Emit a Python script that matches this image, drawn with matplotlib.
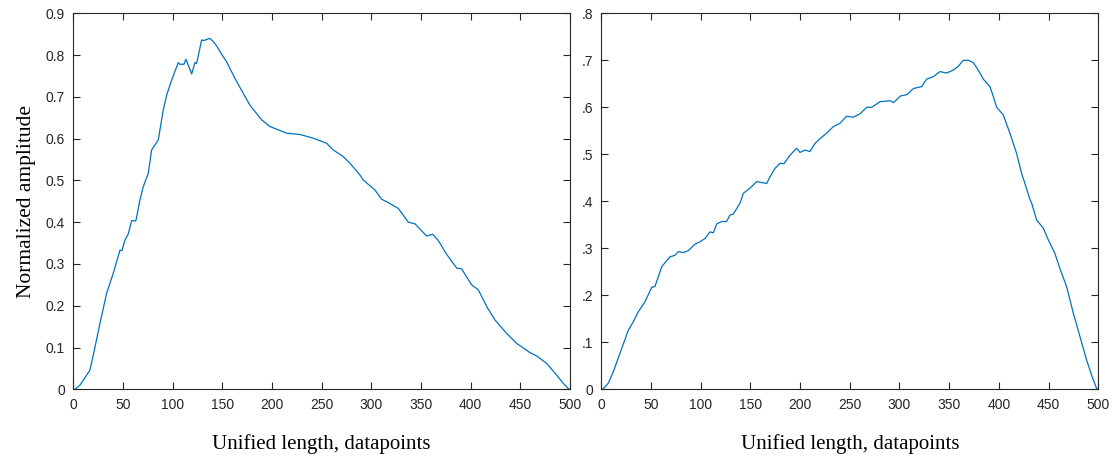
import numpy as np
import matplotlib
matplotlib.use('Agg')
import matplotlib.pyplot as plt

# 左图数据
left_x = [0, 1.7, 6.7, 11, 16.8, 21.8, 26.9, 33.6, 40.3, 47, 49, 52, 55.4, 58.8, 63,
          67.1, 70.5, 75.5, 78.9, 85.6, 90.6, 94, 99, 105.7, 107.3, 111.4, 113.4, 119.2,
          122.5, 124.2, 129.2, 131.5, 137.6, 141, 144.3, 149.4, 154.4, 162.8, 171.2,
          177.9, 189.6, 198, 214.8, 228.2, 241.6, 255, 261.7, 271.8, 278.5, 288.6, 291.9,
          303.7, 310.4, 315.5, 327.2, 337.3, 344, 355.7, 361.8, 367.5, 375.9, 386, 391,
          401, 407.8, 416.2, 424.5, 436.2, 446.3, 459.7, 466.4, 476.5, 486.6, 493.3, 499, 500]
left_y = [0, 0.0, 0.01, 0.025, 0.046, 0.10, 0.158, 0.23, 0.278, 0.333, 0.332, 0.357, 0.372,
          0.404, 0.403, 0.453, 0.485, 0.517, 0.573, 0.597, 0.669, 0.704, 0.74, 0.782, 0.778,
          0.778, 0.79, 0.755, 0.782, 0.78, 0.836, 0.835, 0.84, 0.832, 0.822, 0.802, 0.784,
          0.744, 0.708, 0.68, 0.645, 0.629, 0.613, 0.61, 0.601, 0.589, 0.573, 0.557, 0.541,
          0.513, 0.501, 0.477, 0.455, 0.449, 0.433, 0.40, 0.396, 0.367, 0.371, 0.356, 0.323,
          0.29, 0.288, 0.25, 0.238, 0.198, 0.166, 0.134, 0.11, 0.088, 0.08, 0.062, 0.034,
          0.014, 0.0, 0]

# 右图数据
right_x = [0, 1.4, 7, 12, 18.8, 27.2, 32.2, 37.2, 43.9, 50.7, 54, 60.8, 69.1, 74, 77.5,
           82.5, 87.5, 94.3, 99.3, 104.3, 109.3, 112.7, 116.1, 121, 126, 129.5, 132.8,
           139.5, 142.9, 149.6, 156.3, 161, 166.4, 169.7, 174.7, 179.8, 183.8, 189.8, 196.5,
           199.9, 204.9, 209.9, 214.9, 219.9, 226.7, 233.4, 240.1, 246.8, 253.5, 260.2, 267,
           272, 280.5, 290.6, 294, 300.9, 307.6, 314, 322.3, 327.3, 334, 340.7, 347.4, 354,
           359, 364.2, 369.2, 374.3, 379.3, 384.3, 391, 394.4, 397.8, 404.4, 411.1, 417.8,
           422.8, 426.2, 431.3, 433, 438, 444.7, 449.7, 456.4, 461.4, 468.2, 474.9, 481.6,
           488.3, 493.3, 498.3, 500]
right_y = [0, 0, 0.013, 0.037, 0.077, 0.126, 0.144, 0.165, 0.186, 0.217, 0.219, 0.261,
           0.282, 0.285, 0.293, 0.291, 0.295, 0.309, 0.314, 0.321, 0.335, 0.333, 0.352,
           0.357, 0.357, 0.371, 0.373, 0.396, 0.417, 0.428, 0.442, 0.44, 0.438, 0.452, 0.47,
           0.481, 0.48, 0.498, 0.513, 0.504, 0.509, 0.506, 0.523, 0.533, 0.545, 0.559, 0.566,
           0.581, 0.579, 0.586, 0.60, 0.60, 0.612, 0.614, 0.61, 0.624, 0.627, 0.64, 0.644,
           0.66, 0.665, 0.676, 0.673, 0.679, 0.687, 0.70, 0.70, 0.695, 0.679, 0.66, 0.644,
           0.623, 0.60, 0.584, 0.545, 0.502, 0.46, 0.438, 0.404, 0.396, 0.36, 0.343, 0.318,
           0.289, 0.257, 0.218, 0.162, 0.112, 0.062, 0.03, 0.002, 0]

x_ticks = [0, 50, 100, 150, 200, 250, 300, 350, 400, 450, 500]
left_yticks = [0, 0.1, 0.2, 0.3, 0.4, 0.5, 0.6, 0.7, 0.8, 0.9]
left_ylabels = ['0', '0.1', '0.2', '0.3', '0.4', '0.5', '0.6', '0.7', '0.8', '0.9']
right_yticks = [0, 0.1, 0.2, 0.3, 0.4, 0.5, 0.6, 0.7, 0.8]
right_ylabels = ['0', '.1', '.2', '.3', '.4', '.5', '.6', '.7', '.8']

line_color = '#0072BD'
axis_color = '#262626'

fig = plt.figure(figsize=(11.15, 4.59), dpi=100)
ax1 = fig.add_axes([0.0657, 0.1518, 0.4455, 0.8192])
ax2 = fig.add_axes([0.5393, 0.1518, 0.4457, 0.8192])

panels = [(ax1, left_x, left_y, left_yticks, left_ylabels, 0.9),
          (ax2, right_x, right_y, right_yticks, right_ylabels, 0.8)]

for ax, xs, ys, yt, yl, ymax in panels:
    ax.plot(xs, ys, color=line_color, lw=0.9)
    ax.set_xlim(0, 500)
    ax.set_ylim(0, ymax)
    ax.set_xticks(x_ticks)
    ax.set_yticks(yt)
    ax.set_yticklabels(yl)
    ax.tick_params(direction='in', length=5, width=0.8, top=True, right=True,
                   colors=axis_color, labelsize=10, pad=6)
    for lab in ax.get_xticklabels() + ax.get_yticklabels():
        lab.set_family('Liberation Sans')
    for s in ax.spines.values():
        s.set_color(axis_color)
        s.set_linewidth(0.8)
    ax.set_xlabel('Unified length, datapoints', family='Liberation Serif',
                  fontsize=15, color='black', labelpad=16)

ax1.set_ylabel('Normalized amplitude', family='Liberation Serif',
               fontsize=15.5, color='black', labelpad=7)

plt.savefig('out.png', dpi=100)
